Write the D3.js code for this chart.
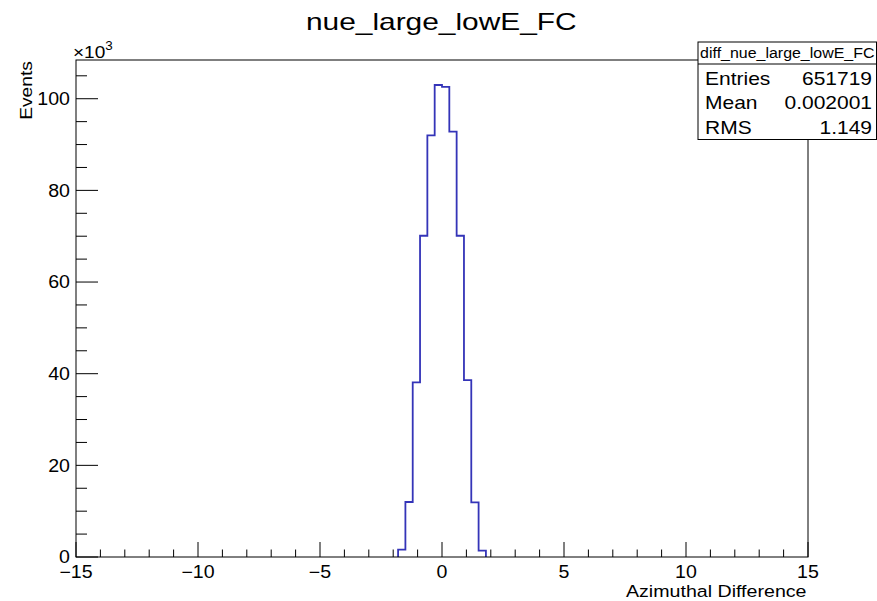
<!DOCTYPE html>
<html>
<head>
<meta charset="utf-8">
<script src="https://cdn.jsdelivr.net/npm/d3@7"></script>
<style>
  html, body { margin: 0; padding: 0; background: #fff; }
  svg { display: block; font-family: "Liberation Sans", Arial, Helvetica, sans-serif; }
</style>
</head>
<body>
<svg id="chart" width="877" height="601"></svg>
<script>
// Histogram: azimuthal difference, 100 bins over [-15, 15]
const histTitle = "nue_large_lowE_FC";
const histName = "diff_nue_large_lowE_FC";
const xTitle = "Azimuthal Difference";
const yTitle = "Events";
const binLow = -15, binHigh = 15, nBins = 100;

// non-empty bins: lower edges and contents (events)
const filledEdges = [-1.8, -1.5, -1.2, -0.9, -0.6, -0.3, 0.0, 0.3, 0.6, 0.9, 1.2, 1.5];
const filledCounts = [1600, 12000, 38100, 70100, 92000, 103000, 102600, 92800, 70100, 38600, 11900, 1400];

const statLabels = ["Entries", "Mean", "RMS"];
const statValues = ["651719", "0.002001", "1.149"];

const xMajorTicks = [-15, -10, -5, 0, 5, 10, 15];
const yMajorTicks = [0, 20, 40, 60, 80, 100];   // in units of 10^3

const svg = d3.select("#chart");
const frame = { left: 76, right: 808, top: 60, bottom: 557 };
const yMax = 108.45; // 10^3 events

const x = d3.scaleLinear().domain([binLow, binHigh]).range([frame.left, frame.right]);
const y = d3.scaleLinear().domain([0, yMax]).range([frame.bottom, frame.top]);

// text helper: the canvas font is a little wider than Arial, so glyphs get a horizontal stretch
function label(px, py, str, size, sx, anchor, rotate) {
  const g = svg.append("g")
    .attr("transform", `translate(${px},${py})` + (rotate ? ` rotate(${rotate})` : "") + ` scale(${sx},1)`);
  return g.append("text")
    .attr("x", 0).attr("y", 0)
    .attr("text-anchor", anchor || "start")
    .attr("font-size", size)
    .attr("fill", "#000")
    .text(str);
}

// full bin content array
const binWidth = (binHigh - binLow) / nBins;
const contents = d3.range(nBins).map(i => {
  const lo = binLow + i * binWidth;
  const k = filledEdges.findIndex(e => Math.abs(e - lo) < 1e-6);
  return k >= 0 ? filledCounts[k] / 1000 : 0;
});

// step outline of the histogram, over the populated range
const first = contents.findIndex(c => c > 0);
const last = nBins - 1 - [...contents].reverse().findIndex(c => c > 0);
const pts = [[x(binLow + first * binWidth), y(0)]];
for (let i = first; i <= last; i++) {
  const lo = binLow + i * binWidth, hi = lo + binWidth;
  pts.push([x(lo), y(contents[i])]);
  pts.push([x(hi), y(contents[i])]);
}
pts.push([x(binLow + (last + 1) * binWidth), y(0)]);
svg.append("path")
  .attr("d", d3.line()(pts))
  .attr("fill", "none")
  .attr("stroke", "#3434b8")
  .attr("stroke-width", 1.8);

// frame
svg.append("rect")
  .attr("x", frame.left).attr("y", frame.top)
  .attr("width", frame.right - frame.left).attr("height", frame.bottom - frame.top)
  .attr("fill", "none").attr("stroke", "#000").attr("stroke-width", 1);

// x axis ticks (pointing into the frame)
const xAxis = svg.append("g");
d3.range(binLow, binHigh + 0.001, 1).forEach(v => {
  const major = xMajorTicks.includes(v);
  xAxis.append("line")
    .attr("x1", x(v)).attr("x2", x(v))
    .attr("y1", frame.bottom).attr("y2", frame.bottom - (major ? 15 : 7.5))
    .attr("stroke", "#000").attr("stroke-width", 1);
});
xMajorTicks.forEach(v => {
  label(x(v), 577.5, v < 0 ? "\u2212" + Math.abs(v) : String(v), 17.5, 1.12, "middle");
});

// y axis ticks
const yAxis = svg.append("g");
d3.range(0, yMax, 5).forEach(v => {
  const major = yMajorTicks.includes(v);
  yAxis.append("line")
    .attr("x1", frame.left).attr("x2", frame.left + (major ? 22 : 11))
    .attr("y1", y(v)).attr("y2", y(v))
    .attr("stroke", "#000").attr("stroke-width", 1);
});
yMajorTicks.forEach(v => {
  label(70, y(v) + 6.3, String(v), 17.5, 1.12, "end");
});
// exponent label
const expo = label(73, 58, "", 17, 1.12, "start");
expo.append("tspan").text("\u00d710");
expo.append("tspan").attr("dy", -8).attr("font-size", 12).text("3");

// axis titles
label(806.5, 597.3, xTitle, 17.2, 1.14, "end");
label(31.5, 61, yTitle, 17.2, 1.12, "end", -90);

// title
label(441.3, 29.5, histTitle, 23, 1.3, "middle");

// statistics box
const box = { x0: 698, x1: 876.5, y0: 42, y1: 139.5, sep: 64 };
svg.append("rect")
  .attr("x", box.x0).attr("y", box.y0)
  .attr("width", box.x1 - box.x0).attr("height", box.y1 - box.y0)
  .attr("fill", "#fff").attr("stroke", "#000").attr("stroke-width", 1);
svg.append("line")
  .attr("x1", box.x0).attr("x2", box.x1)
  .attr("y1", box.sep).attr("y2", box.sep)
  .attr("stroke", "#000").attr("stroke-width", 1);
label((box.x0 + box.x1) / 2, 58, histName, 14.5, 1.1, "middle");
const rowBase = [84.5, 109, 133.5];
statLabels.forEach((lab, i) => {
  label(705, rowBase[i], lab, 17.5, 1.2, "start");
  label(872, rowBase[i], statValues[i], 17.5, 1.2, "end");
});
</script>
</body>
</html>
